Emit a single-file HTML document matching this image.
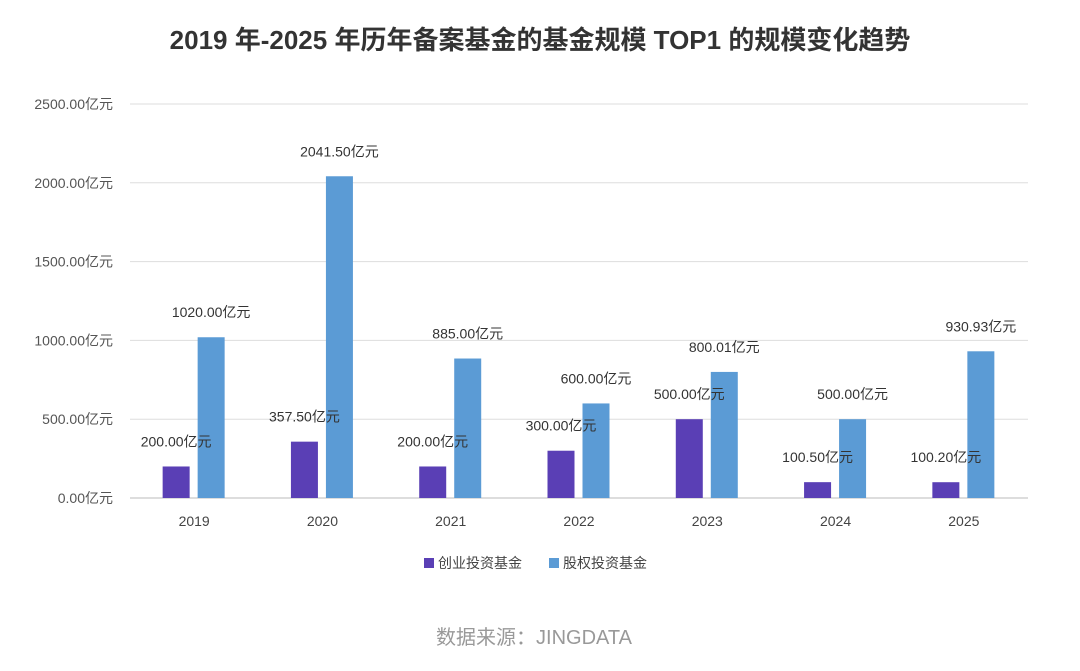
<!DOCTYPE html>
<html><head><meta charset="utf-8"><style>
body{margin:0;background:#fff;font-family:"Liberation Sans","Noto Sans CJK SC",sans-serif;}
svg text{font-family:"Liberation Sans","Noto Sans CJK SC",sans-serif;}
</style></head><body>
<svg id="c" width="1080" height="666" viewBox="0 0 1080 666">
<text x="540" y="49" text-anchor="middle" font-size="26" font-weight="600" fill="#333">2019 年-2025 年历年备案基金的基金规模 TOP1 的规模变化趋势</text>
<g id="grid"></g><g id="bars"></g><g id="labels"></g>
<g>
<rect x="424" y="558" width="10" height="10" fill="#5a3fb5"/>
<text x="438" y="568" font-size="14" fill="#444">创业投资基金</text>
<rect x="549" y="558" width="10" height="10" fill="#5b9bd5"/>
<text x="563" y="568" font-size="14" fill="#444">股权投资基金</text>
</g>
<text x="534" y="644" text-anchor="middle" font-size="20" fill="#999">数据来源：JINGDATA</text>
</svg>
<script>
const categories=["2019","2020","2021","2022","2023","2024","2025"];
const vcValues=[200.00,357.50,200.00,300.00,500.00,100.50,100.20];
const peValues=[1020.00,2041.50,885.00,600.00,800.01,500.00,930.93];
const yTicks=[0,500,1000,1500,2000,2500];
const NS="http://www.w3.org/2000/svg";
const x0=130,x1=1028,y0=498,yTop=104,yMax=2500;
const step=(x1-x0)/categories.length;
const y=v=>y0-(v/yMax)*(y0-yTop);
const xc=i=>x0+step*(i+0.5);
function mk(t,a,p){const e=document.createElementNS(NS,t);for(const k in a)e.setAttribute(k,a[k]);p.appendChild(e);return e;}
const g=document.getElementById('grid'),b=document.getElementById('bars'),L=document.getElementById('labels');
yTicks.forEach(v=>{
 const l=mk('line',{x1:x0,x2:x1,y1:y(v),y2:y(v),stroke:v===0?'#bbb':'#ddd','stroke-width':1},g);
 
 
 const t=mk('text',{x:113,y:y(v)+5,'text-anchor':'end','font-size':14,fill:'#555'},g);
 t.textContent=v.toFixed(2)+'亿元';
 
 
});
categories.forEach((c,i)=>{
 const t=mk('text',{x:xc(i),y:526,'text-anchor':'middle','font-size':14,fill:'#444'},g);
 t.textContent=c;
 
 
 [[vcValues[i],-18,'#5a3fb5','vc'],[peValues[i],17,'#5b9bd5','pe']].forEach(([v,o,col,n])=>{
  const cx=xc(i)+o;
  const r=mk('rect',{x:cx-13.5,y:y(v),width:27,height:y0-y(v),fill:col},b);
  
  
  const lb=mk('text',{x:cx,y:y(v)-20,'text-anchor':'middle','font-size':14,fill:'#333'},L);
  lb.textContent=v.toFixed(2)+'亿元';
  
  
 });
});
</script>
</body></html>
